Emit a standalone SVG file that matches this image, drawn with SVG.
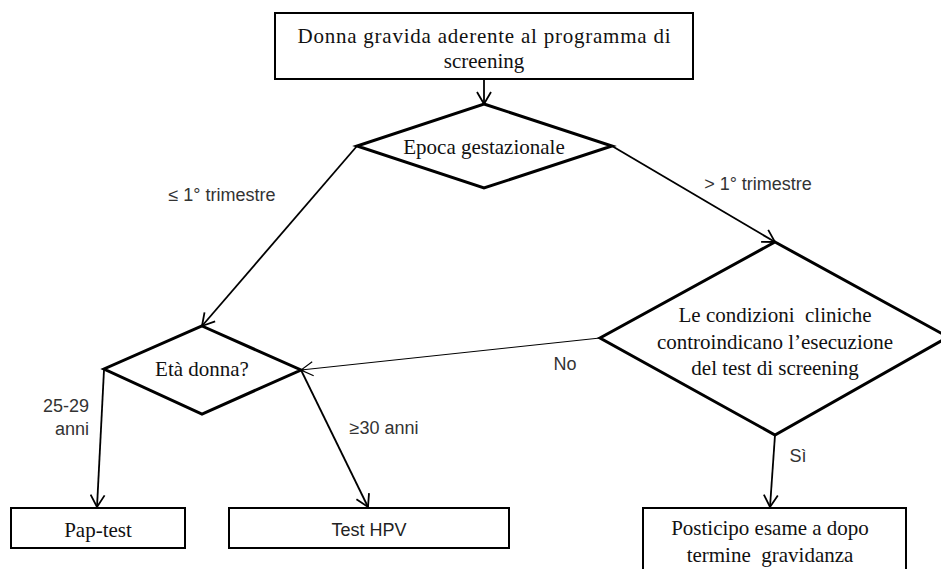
<svg xmlns="http://www.w3.org/2000/svg" width="941" height="569" viewBox="0 0 941 569">
<style>
.box{fill:#fff;stroke:#000;stroke-width:2}
.dia{fill:#fff;stroke:#000;stroke-width:3;stroke-linejoin:miter}
.serif{font-family:"Liberation Serif","Times New Roman",serif;font-size:21px;fill:#111;text-anchor:middle;white-space:pre}
.lab{font-family:"Liberation Sans",Arial,sans-serif;font-size:18px;fill:#333}
.con{fill:none;stroke:#000;stroke-width:1.8}
.thin{fill:none;stroke:#000;stroke-width:1}
</style>
<defs>
<marker id="arr" viewBox="0 0 14 16" refX="13" refY="8" markerWidth="14" markerHeight="16" orient="auto" markerUnits="userSpaceOnUse">
<path d="M1,1 L13,8 L1,15" fill="none" stroke="#000" stroke-width="1.8"/>
</marker>
<marker id="arrT" viewBox="0 0 14 16" refX="13" refY="8" markerWidth="14" markerHeight="16" orient="auto" markerUnits="userSpaceOnUse">
<path d="M1,1 L13,8 L1,15" fill="none" stroke="#000" stroke-width="1.2"/>
</marker>
</defs>
<rect width="941" height="569" fill="#fff"/>
<g id="connectors">
<line class="con" x1="484" y1="79" x2="484" y2="104" marker-end="url(#arr)"/>
<line class="con" x1="357" y1="146" x2="202" y2="326" marker-end="url(#arr)"/>
<line class="con" x1="612" y1="146" x2="775" y2="242" marker-end="url(#arr)"/>
<line class="thin" x1="600" y1="338" x2="301" y2="370" marker-end="url(#arrT)"/>
<line class="con" x1="775" y1="435" x2="770" y2="507" marker-end="url(#arr)"/>
<line class="con" x1="104" y1="370" x2="97" y2="507" marker-end="url(#arr)"/>
<line class="con" x1="301" y1="370" x2="368" y2="507" marker-end="url(#arr)"/>
<text class="lab" x="222" y="201" text-anchor="middle">≤ 1° trimestre</text>
<text class="lab" x="758" y="190" text-anchor="middle">&gt; 1° trimestre</text>
<text class="lab" x="565" y="370" text-anchor="middle">No</text>
<text class="lab" x="798" y="462" text-anchor="middle">Sì</text>
<text class="lab" x="89" y="412" text-anchor="end">25-29</text>
<text class="lab" x="89" y="435" text-anchor="end">anni</text>
<text class="lab" x="384" y="434" text-anchor="middle">≥30 anni</text>
</g>
<g id="start">
<rect class="box" x="275" y="13" width="418" height="66"/>
<text class="serif" x="484" y="43" textLength="373" lengthAdjust="spacing">Donna gravida aderente al programma di</text>
<text class="serif" x="484" y="68">screening</text>
</g>
<g id="epoca">
<polygon class="dia" points="484,104 612,146 484,188 357,146"/>
<text class="serif" x="484" y="154">Epoca gestazionale</text>
</g>
<g id="condizioni">
<polygon class="dia" points="775,242 948,337 775,435 600,338"/>
<text class="serif" x="775" y="322">Le condizioni  cliniche</text>
<text class="serif" x="775" y="349">controindicano l’esecuzione</text>
<text class="serif" x="775" y="375">del test di screening</text>
</g>
<g id="eta">
<polygon class="dia" points="202,326 301,370 202,414 104,369"/>
<text class="serif" x="202" y="376">Età donna?</text>
</g>
<g id="pap">
<rect class="box" x="11" y="508" width="174" height="40"/>
<text class="serif" x="98" y="537">Pap-test</text>
</g>
<g id="hpv">
<rect class="box" x="229" y="508" width="280" height="40"/>
<text class="lab" x="369" y="536" text-anchor="middle" style="fill:#222">Test HPV</text>
</g>
<g id="posticipo">
<rect class="box" x="643" y="508" width="263" height="70"/>
<text class="serif" x="770" y="535">Posticipo esame a dopo</text>
<text class="serif" x="770" y="562">termine  gravidanza</text>
</g>
</svg>
